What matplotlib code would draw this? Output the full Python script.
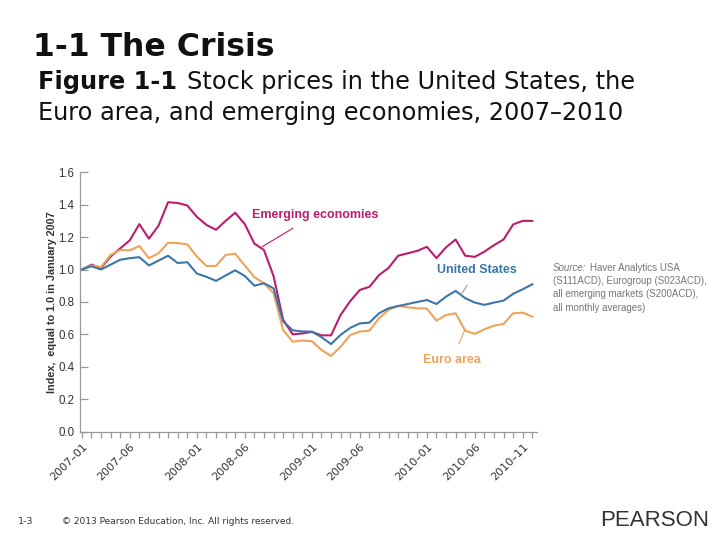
import matplotlib.pyplot as plt

months = ["2007-01", "2007-02", "2007-03", "2007-04", "2007-05", "2007-06",
          "2007-07", "2007-08", "2007-09", "2007-10", "2007-11", "2007-12",
          "2008-01", "2008-02", "2008-03", "2008-04", "2008-05", "2008-06",
          "2008-07", "2008-08", "2008-09", "2008-10", "2008-11", "2008-12",
          "2009-01", "2009-02", "2009-03", "2009-04", "2009-05", "2009-06",
          "2009-07", "2009-08", "2009-09", "2009-10", "2009-11", "2009-12",
          "2010-01", "2010-02", "2010-03", "2010-04", "2010-05", "2010-06",
          "2010-07", "2010-08", "2010-09", "2010-10", "2010-11", "2010-12"]
shown_labels = ["2007-01", "2007-06", "2008-01", "2008-06", "2009-01",
                "2009-06", "2010-01", "2010-06", "2010-11"]

emerging = [1.00, 1.03, 1.01, 1.08, 1.13, 1.18, 1.28, 1.19, 1.27, 1.415,
            1.41, 1.395, 1.325, 1.275, 1.245, 1.30, 1.35, 1.28, 1.16, 1.12,
            0.96, 0.69, 0.60, 0.606, 0.615, 0.594, 0.594, 0.72, 0.805, 0.874,
            0.893, 0.965, 1.01, 1.085, 1.10, 1.115, 1.14, 1.07, 1.137, 1.185,
            1.085, 1.078, 1.11, 1.15, 1.185, 1.278, 1.30, 1.30]
united_states = [1.00, 1.02, 1.00, 1.03, 1.06, 1.07, 1.076, 1.025, 1.055, 1.085,
                 1.04, 1.045, 0.975, 0.955, 0.93, 0.963, 0.995, 0.96, 0.90, 0.915,
                 0.884, 0.68, 0.625, 0.618, 0.617, 0.583, 0.54, 0.597, 0.64, 0.668,
                 0.672, 0.73, 0.761, 0.775, 0.787, 0.80, 0.812, 0.787, 0.833, 0.868,
                 0.823, 0.796, 0.782, 0.796, 0.808, 0.85, 0.878, 0.909]
euro_area = [1.00, 1.025, 1.015, 1.09, 1.12, 1.118, 1.145, 1.07, 1.10, 1.165,
             1.163, 1.155, 1.08, 1.022, 1.022, 1.09, 1.097, 1.025, 0.953, 0.915,
             0.854, 0.627, 0.555, 0.562, 0.558, 0.504, 0.467, 0.524, 0.596, 0.617,
             0.623, 0.699, 0.751, 0.775, 0.767, 0.761, 0.759, 0.685, 0.72, 0.73,
             0.623, 0.603, 0.631, 0.654, 0.664, 0.73, 0.734, 0.709]

c_em = "#b81d6e"
c_us = "#3a77a9"
c_eu = "#eea35a"
grey = "#9a9a9a"
sans = "Liberation Sans"

fig = plt.figure(figsize=(7.2, 5.4), dpi=100)
ax = fig.add_axes([0.111, 0.2006, 0.635, 0.4805])

x = list(range(len(months)))
ax.plot(x, emerging, color=c_em, lw=1.5)
ax.plot(x, euro_area, color=c_eu, lw=1.5)
ax.plot(x, united_states, color=c_us, lw=1.5)

ax.set_xlim(-0.2, 47.5)
ax.set_ylim(0, 1.6)
yt = [0.0, 0.2, 0.4, 0.6, 0.8, 1.0, 1.2, 1.4, 1.6]
ax.set_yticks(yt)
ax.set_yticklabels([f"{v:.1f}" for v in yt], family=sans)
ax.set_xticks(x)
ax.set_xticklabels([m.replace("-", "\u2013") if m in shown_labels else "" for m in months],
                   rotation=45, ha="right", rotation_mode="anchor")
for s in ["top", "right"]:
    ax.spines[s].set_visible(False)
for s in ["left", "bottom"]:
    ax.spines[s].set_color(grey)
    ax.spines[s].set_linewidth(0.9)
ax.tick_params(axis="y", direction="in", length=6, width=0.9, color=grey,
               labelsize=8.3, labelcolor="#333333", pad=4)
ax.tick_params(axis="x", length=4, width=0.9, color=grey, labelsize=8,
               labelcolor="#333333", pad=3)
ax.set_ylabel("Index,  equal to 1.0 in January 2007", fontsize=7.8, family=sans,
              fontweight="bold", color="#333333", labelpad=1)

ax.annotate("Emerging economies", xy=(18.8, 1.14), xytext=(24.3, 1.335),
            color=c_em, fontsize=9, fontweight="bold", ha="center", va="center",
            family=sans,
            arrowprops=dict(arrowstyle="-", color=c_em, lw=0.8, shrinkA=6, shrinkB=0))
ax.annotate("United States", xy=(39.55, 0.843), xytext=(41.25, 1.0),
            color=c_us, fontsize=9, fontweight="bold", ha="center", va="center",
            family=sans,
            arrowprops=dict(arrowstyle="-", color=grey, lw=0.8, shrinkA=6, shrinkB=0))
ax.annotate("Euro area", xy=(39.9, 0.62), xytext=(38.6, 0.44),
            color=c_eu, fontsize=9, fontweight="bold", ha="center", va="center",
            family=sans,
            arrowprops=dict(arrowstyle="-", color=c_eu, lw=0.8, shrinkA=6, shrinkB=0))

renderer = fig.canvas.get_renderer()

src = fig.text(553 / 720, 1 - 263 / 540, "Source:", fontsize=7, color="#777777",
               style="italic", va="top", family=sans)
w = src.get_window_extent(renderer).width
fig.text(553 / 720 + (w + 3) / 720, 1 - 263 / 540, "Haver Analytics USA",
         fontsize=7, color="#777777", va="top", family=sans)
fig.text(553 / 720, 1 - 275.5 / 540,
         "(S111ACD), Eurogroup (S023ACD),\nall emerging markets (S200ACD),\n"
         "all monthly averages)",
         fontsize=7, color="#777777", va="top", linespacing=1.45, family=sans)

fig.text(33 / 720, 1 - 47 / 540, "1-1 The Crisis", fontsize=22.7,
         fontweight="bold", va="center", color="#111111")
fig_lbl = fig.text(38 / 720, 1 - 82 / 540, "Figure 1-1", fontsize=17.3,
                   fontweight="bold", va="center", color="#111111")
w = fig_lbl.get_window_extent(renderer).width
fig.text((38 + w + 10) / 720, 1 - 82 / 540, "Stock prices in the United States, the",
         fontsize=17.3, va="center", color="#111111")
fig.text(38 / 720, 1 - 113 / 540, "Euro area, and emerging economies, 2007\u20132010",
         fontsize=17.3, va="center", color="#111111")

fig.text(18 / 720, 1 - 521 / 540, "1-3", fontsize=6.8, va="center", color="#333333")
fig.text(62 / 720, 1 - 521 / 540, "\u00a9 2013 Pearson Education, Inc. All rights reserved.",
         fontsize=6.5, va="center", color="#333333")
fig.text(655 / 720, 1 - 520 / 540, "PEARSON", fontsize=16, va="center",
         ha="center", color="#333333", family=sans)

fig.savefig("out.png", dpi=100)
